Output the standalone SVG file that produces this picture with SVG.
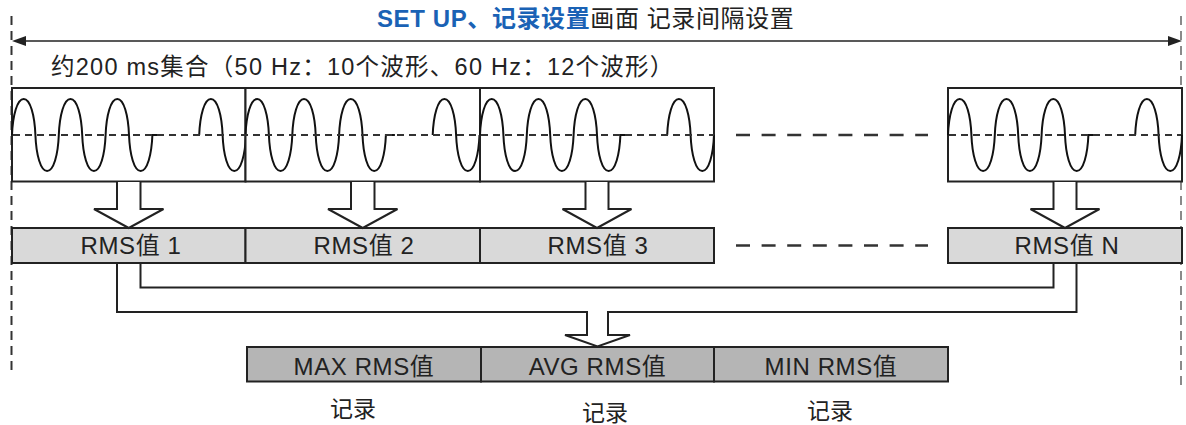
<svg xmlns="http://www.w3.org/2000/svg" width="1186" height="425" viewBox="0 0 1186 425">
<style>
text{font-family:"Liberation Sans","Noto Sans CJK SC",sans-serif;fill:#222}
.box{fill:#fff;stroke:#222;stroke-width:2}
.rms{fill:#d9d9d9;stroke:#222;stroke-width:2}
.res{fill:#b5b5b5;stroke:#222;stroke-width:2}
.wave{fill:none;stroke:#111;stroke-width:2}
.mid{fill:none;stroke:#333;stroke-width:2;stroke-dasharray:7 5}
.gap{fill:none;stroke:#333;stroke-width:2.5;stroke-dasharray:14 11.6}
.harrow{fill:#fff;stroke:#222;stroke-width:2;stroke-linejoin:miter}
.conn{fill:none;stroke:#222;stroke-width:2}
.lbl{font-size:24px;text-anchor:middle;letter-spacing:0.6px}
.rec{font-size:23px;text-anchor:middle}
</style>
<defs>
<path id="wave" class="wave" d="M0,135 c0.8,-20 5.2,-36 11.7,-36 c6.5,0 10.9,16 11.7,36 c0.8,20 5.2,36 11.7,36 c6.5,0 10.9,-16 11.7,-36 c0.8,-20 5.2,-36 11.7,-36 c6.5,0 10.9,16 11.7,36 c0.8,20 5.2,36 11.7,36 c6.5,0 10.9,-16 11.7,-36 c0.8,-20 5.2,-36 11.7,-36 c6.5,0 10.9,16 11.7,36 c0.8,20 5.2,36 11.7,36 c6.5,0 10.9,-16 11.7,-36 h9 M187.2,135 c0.8,-20 5.2,-36 11.7,-36 c6.5,0 10.9,16 11.7,36 c0.8,20 5.2,36 11.7,36 c6.5,0 10.9,-16 11.7,-36"/>
</defs>

<g id="frame">
<line x1="11.5" y1="16" x2="11.5" y2="372" stroke="#333" stroke-width="2" stroke-dasharray="9 6"/>
<line x1="1181" y1="16" x2="1181" y2="390" stroke="#8a8a8a" stroke-width="2" stroke-dasharray="9 6"/>
<line x1="20" y1="41" x2="1174" y2="41" stroke="#222" stroke-width="1.6"/>
<polygon points="12,41 26,36 26,46" fill="#222"/>
<polygon points="1182,41 1168,36 1168,46" fill="#222"/>
<text x="377" y="27" style="font-size:24px;letter-spacing:0.6px"><tspan style="fill:#1a62b5;font-weight:bold">SET UP、记录设置</tspan><tspan>画面 记录间隔设置</tspan></text>
<text x="51" y="75" style="font-size:23.5px;letter-spacing:1.25px">约200 ms集合（50 Hz：10个波形、60 Hz：12个波形）</text>
</g>

<g id="wave1">
<rect class="box" x="12" y="88" width="233.5" height="93.5"/>
<use href="#wave" transform="translate(12,0)"/>
</g>
<g id="wave2">
<rect class="box" x="245.5" y="88" width="234.5" height="93.5"/>
<use href="#wave" transform="translate(245.5,0)"/>
</g>
<g id="wave3">
<rect class="box" x="480" y="88" width="234" height="93.5"/>
<use href="#wave" transform="translate(480,0)"/>
</g>
<g id="waveN">
<rect class="box" x="948" y="88" width="234" height="93.5"/>
<use href="#wave" transform="translate(948,0)"/>
</g>
<g id="midlines">
<line class="mid" x1="13" y1="135" x2="714" y2="135"/>
<line class="mid" x1="949" y1="135" x2="1181" y2="135"/>
<line class="gap" x1="736" y1="135" x2="928" y2="135"/>
<line class="gap" x1="736" y1="245.5" x2="928" y2="245.5"/>
</g>

<g id="rms1">
<rect class="rms" x="12" y="228" width="233.5" height="35"/>
<text class="lbl" x="131" y="254">RMS值 1</text>
</g>
<g id="rms2">
<rect class="rms" x="245.5" y="228" width="234.5" height="35"/>
<text class="lbl" x="364" y="254">RMS值 2</text>
</g>
<g id="rms3">
<rect class="rms" x="480" y="228" width="234" height="35"/>
<text class="lbl" x="598" y="254">RMS值 3</text>
</g>
<g id="rmsN">
<rect class="rms" x="948" y="228" width="234" height="35"/>
<text class="lbl" x="1067" y="254">RMS值 N</text>
</g>

<g id="max">
<rect class="res" x="247" y="347" width="234" height="34.5"/>
<text class="lbl" x="364" y="375">MAX RMS值</text>
<text class="rec" x="353" y="417">记录</text>
</g>
<g id="avg">
<rect class="res" x="481" y="347" width="233" height="34.5"/>
<text class="lbl" x="597.5" y="375">AVG RMS值</text>
<text class="rec" x="605" y="421">记录</text>
</g>
<g id="min">
<rect class="res" x="714" y="347" width="234" height="34.5"/>
<text class="lbl" x="831" y="375">MIN RMS值</text>
<text class="rec" x="830" y="419">记录</text>
</g>

<g id="connectors">
<polyline class="harrow" points="117,182 117,209 94,209 128.75,228 163.5,209 140.5,209 140.5,182"/>
<polyline class="harrow" points="351,182 351,209 328,209 362.75,228 397.5,209 374.5,209 374.5,182"/>
<polyline class="harrow" points="585.5,182 585.5,209 562.5,209 597,228 631.5,209 608.5,209 608.5,182"/>
<polyline class="harrow" points="1053.5,182 1053.5,209 1030.5,209 1065,228 1099.5,209 1076.5,209 1076.5,182"/>
<path class="conn" d="M140.5,264 V287.5 H1053.5 V264"/>
<path class="conn" d="M117,264 V312 H587 V335 H565 L597.5,346.5 L630,335 H608 V312 H1076.5 V264"/>
</g>
</svg>
